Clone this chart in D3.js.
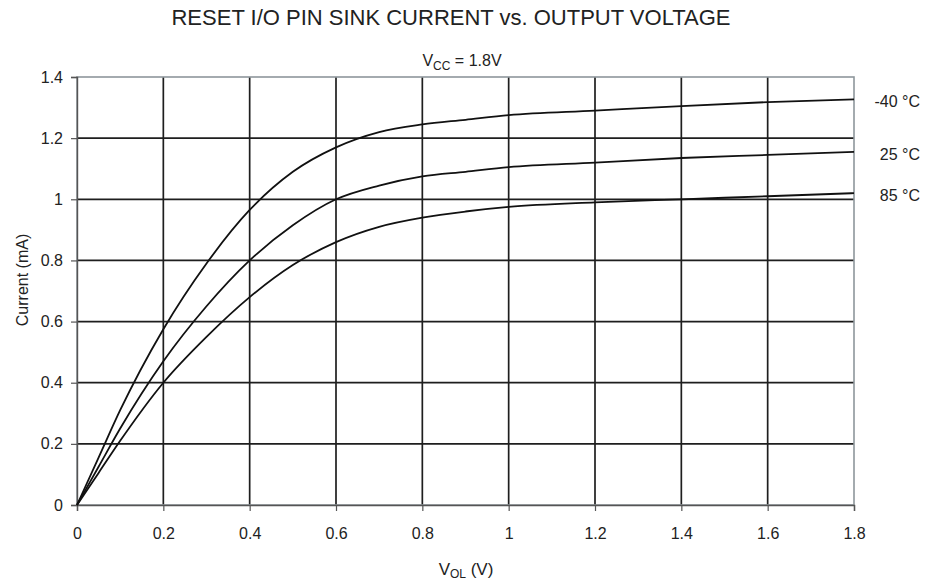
<!DOCTYPE html>
<html>
<head>
<meta charset="utf-8">
<script src="https://cdn.jsdelivr.net/npm/d3@7"></script>
<style>
  body { margin: 0; background: #fff; }
  text { font-family: "Liberation Sans", Arial, sans-serif; fill: #222; }
</style>
</head>
<body>
<div id="chart"></div>
<script>
// data
const vol = [0, 0.05, 0.1, 0.2, 0.3, 0.4, 0.5, 0.6, 0.7, 0.8, 0.9, 1.0, 1.2, 1.4, 1.6, 1.8];
const iMinus40 = [0, 0.155, 0.31, 0.575, 0.79, 0.965, 1.09, 1.17, 1.22, 1.245, 1.26, 1.275, 1.29, 1.305, 1.318, 1.327];
const i25 = [0, 0.125, 0.25, 0.47, 0.65, 0.80, 0.915, 1.0, 1.045, 1.075, 1.09, 1.105, 1.12, 1.135, 1.145, 1.155];
const i85 = [0, 0.105, 0.21, 0.40, 0.55, 0.68, 0.785, 0.86, 0.91, 0.94, 0.96, 0.975, 0.99, 1.0, 1.01, 1.02];
const seriesNames = ["-40 °C", "25 °C", "85 °C"];
const xTicks = [0, 0.2, 0.4, 0.6, 0.8, 1, 1.2, 1.4, 1.6, 1.8];
const yTicks = [0, 0.2, 0.4, 0.6, 0.8, 1, 1.2, 1.4];

const series = [iMinus40, i25, i85].map((vals, k) => ({
  name: seriesNames[k],
  points: vol.map((v, j) => ({x: v, y: vals[j]}))
}));

// set the dimensions and margins of the graph
const W = 926, H = 581;
const margin = {top: 77, right: 72, bottom: 76, left: 77},
    width = W - margin.left - margin.right,
    height = H - margin.top - margin.bottom;

const svg = d3.select("#chart")
  .append("svg")
    .attr("width", W)
    .attr("height", H)
  .append("g")
    .attr("transform", `translate(${margin.left}, ${margin.top})`);

const x = d3.scaleLinear().domain([0, 1.8]).range([0, width]);
const y = d3.scaleLinear().domain([0, 1.4]).range([height, 0]);

// grid
svg.selectAll(".vgrid")
  .data(xTicks.slice(1, -1))
  .join("line")
    .attr("x1", d => x(d)).attr("x2", d => x(d))
    .attr("y1", 0).attr("y2", height)
    .attr("stroke", "#1e1e1e").attr("stroke-width", 1.7);
svg.selectAll(".hgrid")
  .data(yTicks.slice(1, -1))
  .join("line")
    .attr("x1", 0).attr("x2", width)
    .attr("y1", d => y(d)).attr("y2", d => y(d))
    .attr("stroke", "#1e1e1e").attr("stroke-width", 1.7);

// plot border
svg.append("rect")
  .attr("width", width).attr("height", height)
  .attr("fill", "none")
  .attr("stroke", "#8e969c").attr("stroke-width", 1.6);

// axes
const xAxis = svg.append("g")
  .attr("transform", `translate(0, ${height})`)
  .call(d3.axisBottom(x).tickValues(xTicks).tickFormat(d3.format("")).tickSize(6).tickPadding(17));
const yAxis = svg.append("g")
  .call(d3.axisLeft(y).tickValues(yTicks).tickFormat(d3.format("")).tickSize(6).tickPadding(8));
[xAxis, yAxis].forEach(a => {
  a.select(".domain").attr("stroke", "#555").attr("stroke-width", 1.4);
  a.selectAll(".tick line").attr("stroke", "#555").attr("stroke-width", 1.2);
  a.selectAll(".tick text")
    .style("font-family", "'Liberation Sans', Arial, sans-serif")
    .style("font-size", "16px")
    .attr("fill", "#222");
});

// curves
const line = d3.line()
  .x(d => x(d.x))
  .y(d => y(d.y))
  .curve(d3.curveMonotoneX);

svg.selectAll(".curve")
  .data(series)
  .join("path")
    .attr("fill", "none")
    .attr("stroke", "#111")
    .attr("stroke-width", 1.8)
    .attr("d", d => line(d.points));

// series labels
svg.selectAll(".lbl")
  .data(series)
  .join("text")
    .attr("x", width + 66)
    .attr("y", d => y(d.points[d.points.length - 1].y) + 8)
    .attr("text-anchor", "end")
    .style("font-size", "16px")
    .text(d => d.name);

// title
svg.append("text")
  .attr("x", 451 - margin.left)
  .attr("y", 25 - margin.top)
  .attr("text-anchor", "middle")
  .style("font-size", "22px")
  .text("RESET I/O PIN SINK CURRENT vs. OUTPUT VOLTAGE");

// subtitle
const sub = svg.append("text")
  .attr("x", 462 - margin.left)
  .attr("y", 66 - margin.top)
  .attr("text-anchor", "middle")
  .style("font-size", "16px");
sub.append("tspan").text("V");
sub.append("tspan").attr("dy", 4).style("font-size", "12px").text("CC");
sub.append("tspan").attr("dy", -4).text(" = 1.8V");

// x label
const xl = svg.append("text")
  .attr("x", 466 - margin.left)
  .attr("y", 575 - margin.top)
  .attr("text-anchor", "middle")
  .style("font-size", "17px");
xl.append("tspan").text("V");
xl.append("tspan").attr("dy", 3).style("font-size", "12px").text("OL");
xl.append("tspan").attr("dy", -3).text(" (V)");

// y label
svg.append("text")
  .attr("transform", "rotate(-90)")
  .attr("x", -(280 - margin.top))
  .attr("y", 28 - margin.left)
  .attr("text-anchor", "middle")
  .style("font-size", "16px")
  .text("Current (mA)");
</script>
</body>
</html>
